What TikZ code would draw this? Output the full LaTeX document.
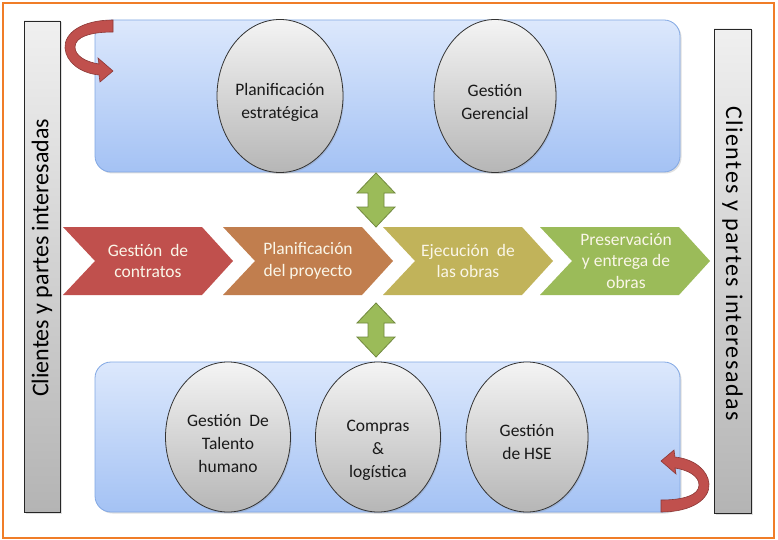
\documentclass[tikz,border=0pt]{standalone}
\usepackage{fontspec}
\setmainfont{Carlito}
\usetikzlibrary{shapes.geometric,shadows}
\definecolor{frameorange}{RGB}{240,125,40}
\definecolor{boxtop}{RGB}{220,232,252}
\definecolor{boxbot}{RGB}{164,194,244}
\definecolor{boxline}{RGB}{130,168,228}
\definecolor{elltop}{RGB}{244,244,244}
\definecolor{ellbot}{RGB}{182,182,182}
\definecolor{barbot}{RGB}{180,180,180}
\definecolor{cred}{RGB}{192,80,77}
\definecolor{cbrown}{RGB}{193,126,78}
\definecolor{colive}{RGB}{193,179,90}
\definecolor{cgreen}{RGB}{155,187,89}
\definecolor{cgreenline}{RGB}{113,137,63}
\definecolor{credline}{RGB}{140,56,54}
\definecolor{chevtext}{RGB}{250,246,232}
\tikzset{
  bluebox/.style={draw=boxline, line width=0.8pt, rounded corners=16pt, top color=boxtop, bottom color=boxbot,
    drop shadow={shadow xshift=1.5pt, shadow yshift=-1.5pt, opacity=0.25}},
  ell/.style={ellipse, draw=black!80, line width=0.8pt, top color=elltop, bottom color=ellbot, inner sep=0pt,
    drop shadow={shadow xshift=1pt, shadow yshift=-1.5pt, opacity=0.25}},
  elltext/.style={align=center, font=\fontsize{17.5}{23}\selectfont, text=black!90, inner sep=0pt},
  sidebar/.style={draw=black!85, line width=0.9pt, top color=black!6, bottom color=barbot, inner sep=0pt,
    drop shadow={shadow xshift=1.5pt, shadow yshift=-1.5pt, opacity=0.25}},
  sidetext/.style={font=\fontsize{24}{28}\selectfont, text=black},
  chevlabel/.style={align=center, text=chevtext, font=\fontsize{17.5}{21.5}\selectfont, inner sep=0pt},
  dblarrow/.style={fill=cgreen, draw=cgreenline, line width=0.8pt, line join=miter},
  uturnstyle/.style={fill=cred, draw=credline, line width=0.6pt},
}
\newcommand\chevron[2]{%
  \fill[#2] (#1,227) -- ++(139,0) -- ++(31,34) -- ++(-31,34) -- ++(-139,0) -- ++(32,-34) -- cycle;}
\newcommand\uturnshape{%
  \path[uturnstyle] (113,20) .. controls (82,20) and (64,33) .. (65,48)
    .. controls (66,62) and (80,73) .. (99,75) -- (100,82) -- (113,71) -- (98,58) -- (99,64)
    .. controls (86,62) and (75,56) .. (75,47) .. controls (75,37) and (90,32) .. (113,32) -- cycle;}
\newcommand\vdbl[1]{%
  \path[dblarrow] (376,#1) -- ++(19,20) -- ++(-11,0) -- ++(0,14) -- ++(11,0) -- ++(-19,20)
    -- ++(-19,-20) -- ++(11,0) -- ++(0,-14) -- ++(-11,0) -- cycle;}
\begin{document}
\begin{tikzpicture}[x=1pt,y=-1pt]
\useasboundingbox (0,0) rectangle (778,540);
\fill[white] (0,0) rectangle (778,540);
\draw[frameorange, line width=2pt] (3,3) rectangle (774,538);

% side bars
\node[sidebar, minimum width=36pt, minimum height=491pt] (lbar) at (42,266.5) {};
\node[sidetext, rotate=90] (ltext) at ([yshift=8.5pt]lbar.center) {Clientes y partes interesadas};
\node[sidebar, minimum width=37pt, minimum height=484pt] (rbar) at (732.5,271) {};
\node[sidetext, rotate=-90] (rtext) at ([yshift=7.5pt]rbar.center) {\addfontfeatures{LetterSpace=6}Clientes y partes interesadas};

% blue boxes
\node[bluebox, minimum width=585pt, minimum height=152pt] (topbox) at (387.5,96) {};
\node[bluebox, minimum width=585pt, minimum height=150pt] (botbox) at (387.5,437) {};

% ellipses
\node[ell, minimum width=126pt, minimum height=153pt] (pe) at (280,96) {};
\node[ell, minimum width=122pt, minimum height=153pt] (gg) at (495,96) {};
\node[ell, minimum width=125pt, minimum height=150pt] (th) at (228,437) {};
\node[ell, minimum width=125pt, minimum height=150pt] (cl) at (378,437) {};
\node[ell, minimum width=122pt, minimum height=150pt] (hse) at (527,437) {};
\node[elltext] (pet) at ([yshift=-6pt]pe.center) {Planificación\\estratégica};
\node[elltext] (ggt) at ([yshift=-6pt]gg.center) {Gestión\\Gerencial};
\node[elltext] (tht) at ([yshift=-7pt]th.center) {Gestión~ De\\Talento\\humano};
\node[elltext] (clt) at ([yshift=-13pt]cl.center) {Compras\\\&\\logística};
\node[elltext] (hset) at ([yshift=-5.5pt]hse.center) {Gestión\\de HSE};

% curved arrows
\uturnshape
\begin{scope}[shift={(774,532)}, rotate=180]
\uturnshape
\end{scope}

% chevrons
\chevron{63}{cred}
\chevron{223}{cbrown}
\chevron{383}{colive}
\chevron{540}{cgreen}
\node[chevlabel] (c1) at (148,261) {Gestión~ de\\contratos};
\node[chevlabel] (c2) at (308,261) {Planificación\\del proyecto};
\node[chevlabel] (c3) at (468,261) {Ejecución~ de\\las obras};
\node[chevlabel] (c4) at (626,261) {Preservación\\y entrega de\\obras};

% double arrows
\vdbl{173}
\vdbl{303}
\end{tikzpicture}
\end{document}
